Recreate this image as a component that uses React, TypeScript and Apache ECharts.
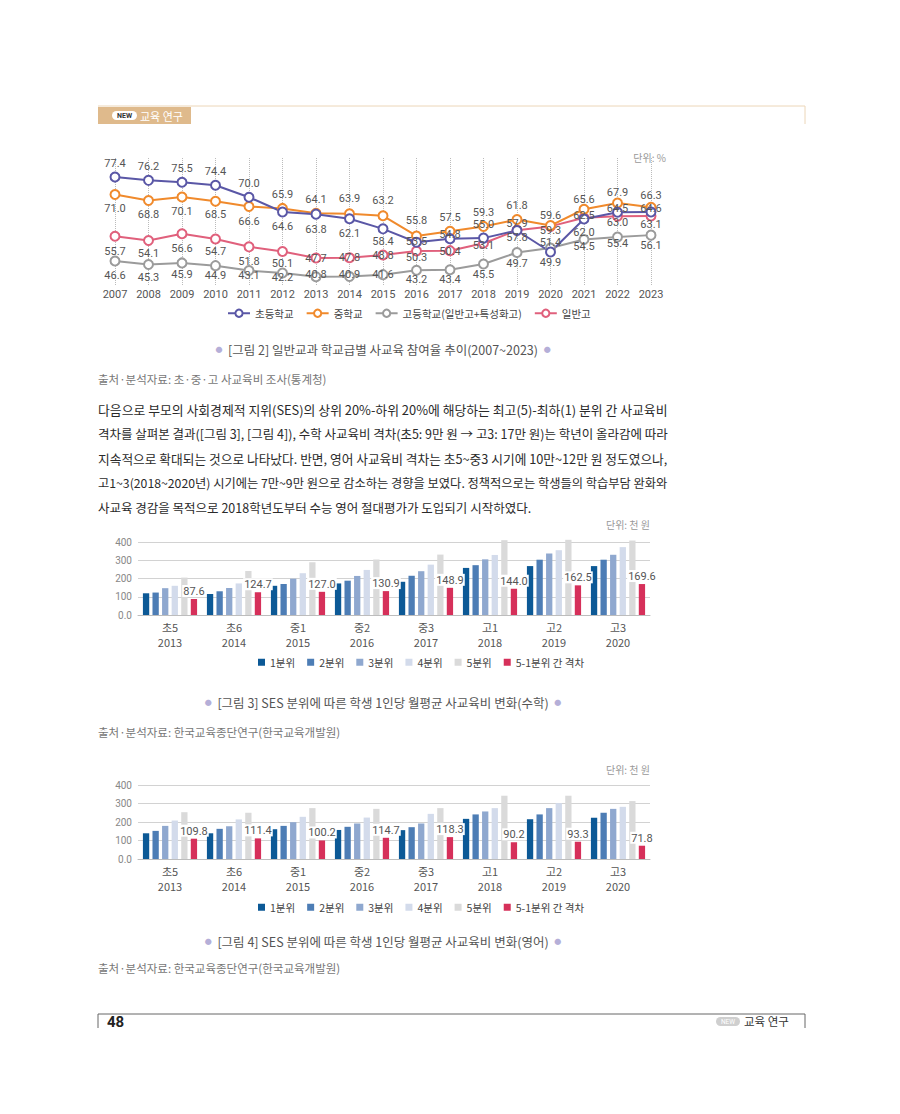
import React, { useEffect, useRef } from 'react';
import * as echarts from 'echarts';

const FONT = "'Noto Sans CJK KR', 'Noto Sans', sans-serif";
const NUM = "Roboto, 'Noto Sans CJK KR', sans-serif";

// [그림 2] 참여율 (%)
const years = ['2007', '2008', '2009', '2010', '2011', '2012', '2013', '2014', '2015', '2016', '2017', '2018', '2019', '2020', '2021', '2022', '2023'];
const elementary = [77.4, 76.2, 75.5, 74.4, 70.0, 64.6, 63.8, 62.1, 58.4, 53.5, 54.8, 55.0, 57.8, 49.9, 62.0, 64.5, 64.6];
const middle = [71.0, 68.8, 70.1, 68.5, 66.6, 65.9, 64.1, 63.9, 63.2, 55.8, 57.5, 59.3, 61.8, 59.6, 65.6, 67.9, 66.3];
const high = [46.6, 45.3, 45.9, 44.9, 43.1, 42.2, 40.8, 40.9, 41.6, 43.2, 43.4, 45.5, 49.7, 51.4, 54.5, 55.4, 56.1];
const general = [55.7, 54.1, 56.6, 54.7, 51.8, 50.1, 47.7, 47.8, 48.8, 50.3, 50.4, 53.1, 57.9, 59.3, 62.5, 63.0, 63.1];
const lineNames = ['초등학교', '중학교', '고등학교(일반고+특성화고)', '일반고'];

// label placement (px above / below each point)
const elementaryDy = [-14, -14, -14, -14, -14, 15, 15, 15, 13, -1, -4, -14, 7, 10, 13, -4, -3];
const middleDy = [14, 14, 15, 13, 15, -14, -14, -15, -15, -15, -14, -14, -14, -10, -10, -10, -12];
const highDy = [14, 13, 12, 10, 5, 4, -2, -2, 0, 9, 10, 10, 11, -5, 7, 6, 10];
const generalDy = [15, 13, 15, 13, 15, 12, 0, 0, 0, 7, 1, 2, -7, 4, -2, 6, 8];

// [그림 3], [그림 4] 월평균 사교육비 (천 원)
const grades = ['초5', '초6', '중1', '중2', '중3', '고1', '고2', '고3'];
const gradeYears = ['2013', '2014', '2015', '2016', '2017', '2018', '2019', '2020'];
const quintileNames = ['1분위', '2분위', '3분위', '4분위', '5분위'];
const gapName = '5-1분위 간 격차';

const mathQ1 = [119, 115, 160, 173, 182, 258, 268, 268];
const mathQ2 = [123, 130, 170, 188, 215, 273, 303, 303];
const mathQ3 = [147, 148, 199, 214, 240, 305, 337, 330];
const mathQ4 = [160, 173, 229, 247, 276, 329, 355, 372];
const mathQ5 = [205, 241, 289, 304, 331, 410, 412, 408];
const mathGap = [87.6, 124.7, 127.0, 130.9, 148.9, 144.0, 162.5, 169.6];

const engQ1 = [139, 139, 161, 157, 156, 217, 215, 223];
const engQ2 = [152, 163, 179, 174, 172, 241, 241, 250];
const engQ3 = [179, 177, 199, 192, 192, 257, 275, 271];
const engQ4 = [208, 214, 228, 224, 244, 275, 302, 282];
const engQ5 = [253, 250, 275, 271, 275, 342, 342, 313];
const engGap = [109.8, 111.4, 100.2, 114.7, 118.3, 90.2, 93.3, 71.8];

const lineColors = ['#5a57a6', '#f08a2c', '#9b9b9b', '#e0607c'];
const barColors = ['#0c5996', '#4d7db5', '#8fa8cf', '#d3dbeb', '#dadada', '#d6305a'];

const paragraph = [
  '다음으로 부모의 사회경제적 지위(SES)의 상위 20%-하위 20%에 해당하는 최고(5)-최하(1) 분위 간 사교육비',
  '격차를 살펴본 결과([그림 3], [그림 4]), 수학 사교육비 격차(초5: 9만 원 → 고3: 17만 원)는 학년이 올라감에 따라',
  '지속적으로 확대되는 것으로 나타났다. 반면, 영어 사교육비 격차는 초5~중3 시기에 10만~12만 원 정도였으나,',
  '고1~3(2018~2020년) 시기에는 7만~9만 원으로 감소하는 경향을 보였다. 정책적으로는 학생들의 학습부담 완화와',
  '사교육 경감을 목적으로 2018학년도부터 수능 영어 절대평가가 도입되기 시작하였다.',
];

const PARA_SIZE = 12.5;
const PARA_WIDTH = 570;

// full lines are stretched/shrunk slightly to the column width, as in a justified page
function fitSize(line: string, isLast: boolean) {
  if (isLast) return PARA_SIZE;
  const ctx = document.createElement('canvas').getContext('2d');
  if (!ctx) return PARA_SIZE;
  ctx.font = `${PARA_SIZE}px ${FONT}`;
  const w = ctx.measureText(line).width;
  if (!w) return PARA_SIZE;
  return Math.max(11.8, Math.min(13.2, (PARA_SIZE * PARA_WIDTH) / w));
}

function text(x: number, y: number, str: string, size: number, color: string, align = 'left', extra: any = {}) {
  return {
    type: 'text', x, y, silent: true,
    style: {
      text: str, fill: color, fontSize: size, fontFamily: FONT,
      align, textAlign: align, verticalAlign: 'middle', textVerticalAlign: 'middle',
      ...extra,
    },
  };
}

function caption(y: number, str: string) {
  return text(383, y, `{d|●}  ${str}  {d|●}`, 12.5, '#555', 'center', {
    rich: { d: { fill: '#b5afd8', fontSize: 7, fontFamily: FONT } },
  });
}

function lineSeries(name: string, values: number[], color: string, dys: number[]) {
  return {
    name, type: 'line', xAxisIndex: 0, yAxisIndex: 0,
    data: values.map((v, i) => ({ value: v, label: { offset: [0, dys[i]] } })),
    symbol: 'circle', symbolSize: 9,
    lineStyle: { color, width: 2 },
    itemStyle: { color: '#fff', borderColor: color, borderWidth: 2 },
    label: {
      show: true, position: 'inside', fontSize: 11, color: '#555', fontFamily: NUM,
      textBorderWidth: 0, formatter: (p: any) => Number(p.value).toFixed(1),
    },
  };
}

function barSeries(name: string, data: number[], color: string, axis: number, withLabel = false) {
  return {
    name, type: 'bar', xAxisIndex: axis, yAxisIndex: axis, data,
    barWidth: 6.3, barGap: '52%', clip: false,
    itemStyle: { color },
    label: withLabel
      ? {
          show: true, position: 'top', distance: 2, fontSize: 11, color: '#555', fontFamily: NUM,
          backgroundColor: '#fff', padding: [1, 1, 0, 1],
          formatter: (p: any) => Number(p.value).toFixed(1),
        }
      : { show: false },
  };
}

function barAxes(idx: number) {
  return {
    x: {
      gridIndex: idx, type: 'category', data: grades,
      axisLine: { lineStyle: { color: '#bdbdbd' } }, axisTick: { show: false },
      axisLabel: {
        margin: 4, fontSize: 11, lineHeight: 15, color: '#555', fontFamily: FONT,
        formatter: (v: string, i: number) => `${v}\n${gradeYears[i]}`,
      },
    },
    y: {
      gridIndex: idx, type: 'value', min: 0, max: 400, interval: 100,
      axisLine: { show: false }, axisTick: { show: false },
      axisLabel: { margin: 6, fontSize: 10, color: '#888', fontFamily: NUM, formatter: (v: number) => (v === 0 ? '0.0' : String(v)) },
      splitLine: { lineStyle: { color: '#d2d2d2' } },
    },
  };
}

function barLegend(top: number) {
  return {
    top, left: 253, icon: 'rect', itemWidth: 7, itemHeight: 7, itemGap: 12,
    textStyle: { fontSize: 10.5, color: '#444', fontFamily: FONT },
    data: [...quintileNames, gapName],
  };
}

export default function App() {
  const ref = useRef<HTMLDivElement>(null);

  useEffect(() => {
    if (!ref.current) return;
    const chart = echarts.init(ref.current, null, { renderer: 'svg' });
    const math = barAxes(1);
    const eng = barAxes(2);

    chart.setOption({
      animation: false,
      backgroundColor: '#fff',
      grid: [
        { left: 115, width: 536, top: 158, height: 127, containLabel: false, outerBoundsMode: 'none' },
        { left: 138, width: 512, top: 542, height: 73, containLabel: false, outerBoundsMode: 'none' },
        { left: 138, width: 512, top: 785, height: 74, containLabel: false, outerBoundsMode: 'none' },
      ],
      xAxis: [
        {
          gridIndex: 0, type: 'category', data: years, boundaryGap: false,
          axisLine: { show: false }, axisTick: { show: false },
          axisLabel: { margin: 4, fontSize: 11, color: '#555', fontFamily: NUM },
          splitLine: { show: true, lineStyle: { type: 'dotted', color: '#bbb', width: 1 } },
        },
        math.x, eng.x,
      ],
      yAxis: [
        { gridIndex: 0, type: 'value', min: 37.8, max: 84.4, show: false },
        math.y, eng.y,
      ],
      legend: [
        {
          top: 303, left: 222, itemWidth: 22, itemHeight: 9, itemGap: 12,
          textStyle: { fontSize: 10.5, color: '#444', fontFamily: FONT },
          data: lineNames,
        },
        barLegend(652),
        barLegend(897),
      ],
      series: [
        lineSeries(lineNames[2], high, lineColors[2], highDy),
        lineSeries(lineNames[3], general, lineColors[3], generalDy),
        lineSeries(lineNames[1], middle, lineColors[1], middleDy),
        lineSeries(lineNames[0], elementary, lineColors[0], elementaryDy),
        barSeries(quintileNames[0], mathQ1, barColors[0], 1),
        barSeries(quintileNames[1], mathQ2, barColors[1], 1),
        barSeries(quintileNames[2], mathQ3, barColors[2], 1),
        barSeries(quintileNames[3], mathQ4, barColors[3], 1),
        barSeries(quintileNames[4], mathQ5, barColors[4], 1),
        barSeries(gapName, mathGap, barColors[5], 1, true),
        barSeries(quintileNames[0], engQ1, barColors[0], 2),
        barSeries(quintileNames[1], engQ2, barColors[1], 2),
        barSeries(quintileNames[2], engQ3, barColors[2], 2),
        barSeries(quintileNames[3], engQ4, barColors[3], 2),
        barSeries(quintileNames[4], engQ5, barColors[4], 2),
        barSeries(gapName, engGap, barColors[5], 2, true),
      ],
      graphic: [
        // page header
        { type: 'polyline', silent: true, shape: { points: [[98, 106], [805, 106], [805, 124]] }, style: { stroke: '#ecd6b8', lineWidth: 1, fill: 'none' } },
        { type: 'rect', silent: true, shape: { x: 98, y: 107, width: 93, height: 17 }, style: { fill: '#dfba8c' } },
        { type: 'rect', silent: true, shape: { x: 112, y: 111, width: 25, height: 9, r: 4.5 }, style: { fill: '#fff' } },
        text(124.5, 115.6, 'NEW', 7, '#333', 'center', { fontWeight: 'bold', fontFamily: NUM }),
        text(140, 116, '교육 연구', 11, '#fff'),

        text(666, 157, '단위: %', 10, '#999', 'right'),
        caption(349, '[그림 2] 일반교과 학교급별 사교육 참여율 추이(2007~2023)'),
        text(98, 379, '출처·분석자료: 초·중·고 사교육비 조사(통계청)', 11.5, '#777'),

        ...paragraph.map((line, i) =>
          text(98, 409 + i * 24.5, line, fitSize(line, i === paragraph.length - 1), '#2a2a2a')),

        text(650, 524, '단위: 천 원', 10, '#999', 'right'),
        caption(702, '[그림 3] SES 분위에 따른 학생 1인당 월평균 사교육비 변화(수학)'),
        text(98, 732, '출처·분석자료: 한국교육종단연구(한국교육개발원)', 11.5, '#777'),

        text(650, 769, '단위: 천 원', 10, '#999', 'right'),
        caption(941, '[그림 4] SES 분위에 따른 학생 1인당 월평균 사교육비 변화(영어)'),
        text(98, 968, '출처·분석자료: 한국교육종단연구(한국교육개발원)', 11.5, '#777'),

        // page footer
        { type: 'polyline', silent: true, shape: { points: [[98, 1028], [98, 1014], [805, 1014], [805, 1028]] }, style: { stroke: '#666', lineWidth: 1, fill: 'none' } },
        text(107, 1022, '48', 15, '#222', 'left', { fontWeight: 'bold', fontFamily: NUM }),
        { type: 'rect', silent: true, shape: { x: 716, y: 1017, width: 24, height: 9, r: 4.5 }, style: { fill: '#cfcfcf' } },
        text(728, 1021.6, 'NEW', 6.5, '#fff', 'center', { fontFamily: NUM }),
        text(744, 1021, '교육 연구', 11.5, '#333'),
      ],
    });

    return () => chart.dispose();
  }, []);

  return (
    <div
      ref={ref}
      style={{ position: 'absolute', left: 0, top: 0, width: 900, height: 1114, background: '#fff' }}
    />
  );
}
